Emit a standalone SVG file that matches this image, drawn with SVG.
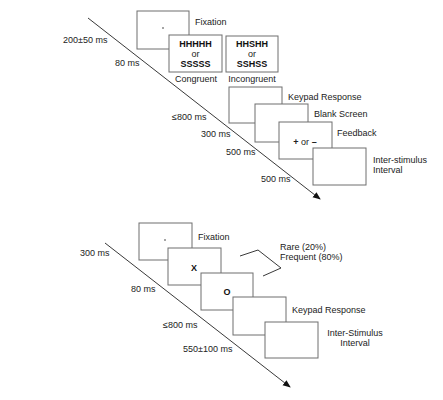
<svg xmlns="http://www.w3.org/2000/svg" width="443" height="400" viewBox="0 0 443 400">
<style>
.box{fill:#fff;stroke:#6e6e6e;stroke-width:1}
.t{font-family:"Liberation Sans",Arial,sans-serif;font-size:9px;fill:#222}
.b{font-family:"Liberation Sans",Arial,sans-serif;font-size:9px;font-weight:bold;fill:#111}
.ln{stroke:#222;stroke-width:0.9;fill:none}
</style>
<defs>
<marker id="ah" markerWidth="8" markerHeight="8" refX="7" refY="4" orient="auto" markerUnits="userSpaceOnUse">
<path d="M0,0.8 L8,4 L0,7.2 Z" fill="#111"/>
</marker>
</defs>
<rect width="443" height="400" fill="#fff"/>
<g id="connectors">
<line class="ln" x1="88" y1="18" x2="320" y2="199" marker-end="url(#ah)"/>
<line class="ln" x1="105" y1="243" x2="290" y2="387" marker-end="url(#ah)"/>
<path class="ln" d="M240,256 L258,250 L281,268 L263,276" stroke="#444"/>
</g>
<g id="timings" class="t">
<text x="63" y="43">200±50 ms</text>
<text x="115" y="66">80 ms</text>
<text x="172" y="120">≤800 ms</text>
<text x="201" y="137">300 ms</text>
<text x="226" y="155">500 ms</text>
<text x="261" y="182">500 ms</text>
<text x="80" y="256">300 ms</text>
<text x="131" y="292">80 ms</text>
<text x="163" y="328">≤800 ms</text>
<text x="183" y="352">550±100 ms</text>
</g>
<g id="fixation1">
<rect class="box" x="137" y="11" width="52" height="38"/>
<circle cx="163" cy="28" r="0.8" fill="#333"/>
<text class="t" x="195" y="25">Fixation</text>
</g>
<g id="congruent">
<rect class="box" x="169" y="35" width="53" height="37"/>
<text class="b" x="195.5" y="47" text-anchor="middle">HHHHH</text>
<text class="t" x="195.5" y="57" text-anchor="middle">or</text>
<text class="b" x="195.5" y="67" text-anchor="middle">SSSSS</text>
<text class="t" x="196" y="82" text-anchor="middle">Congruent</text>
</g>
<g id="incongruent">
<rect class="box" x="226" y="36" width="52" height="36"/>
<text class="b" x="252" y="47" text-anchor="middle">HHSHH</text>
<text class="t" x="252" y="57" text-anchor="middle">or</text>
<text class="b" x="252" y="67" text-anchor="middle">SSHSS</text>
<text class="t" x="252" y="82" text-anchor="middle">Incongruent</text>
</g>
<g id="keypad1">
<rect class="box" x="229" y="87" width="53" height="36"/>
<text class="t" x="288" y="100">Keypad Response</text>
</g>
<g id="blank">
<rect class="box" x="255" y="104" width="53" height="38"/>
<text class="t" x="314" y="117">Blank Screen</text>
</g>
<g id="feedback">
<rect class="box" x="279" y="122" width="53" height="37"/>
<text class="t" x="305" y="145" text-anchor="middle"><tspan font-weight="bold">+</tspan> or <tspan font-weight="bold">–</tspan></text>
<text class="t" x="337" y="136">Feedback</text>
</g>
<g id="isi1">
<rect class="box" x="313" y="148" width="53" height="37"/>
<text class="t" x="373" y="163">Inter-stimulus</text>
<text class="t" x="373" y="173">Interval</text>
</g>
<g id="fixation2">
<rect class="box" x="139" y="223" width="53" height="37"/>
<circle cx="165" cy="240" r="0.8" fill="#333"/>
<text class="t" x="198" y="240">Fixation</text>
</g>
<g id="x-stim">
<rect class="box" x="168" y="248" width="53" height="37"/>
<text class="b" x="194" y="271" text-anchor="middle">X</text>
</g>
<g id="o-stim">
<rect class="box" x="201" y="273" width="52" height="37"/>
<text class="b" x="227" y="295" text-anchor="middle">O</text>
</g>
<g id="labels-rare">
<text class="t" x="280" y="250">Rare (20%)</text>
<text class="t" x="280" y="260">Frequent (80%)</text>
</g>
<g id="keypad2">
<rect class="box" x="233" y="297" width="53" height="38"/>
<text class="t" x="292" y="313">Keypad Response</text>
</g>
<g id="isi2">
<rect class="box" x="265" y="322" width="53" height="36"/>
<text class="t" x="355" y="336" text-anchor="middle">Inter-Stimulus</text>
<text class="t" x="355" y="346" text-anchor="middle">Interval</text>
</g>
</svg>
